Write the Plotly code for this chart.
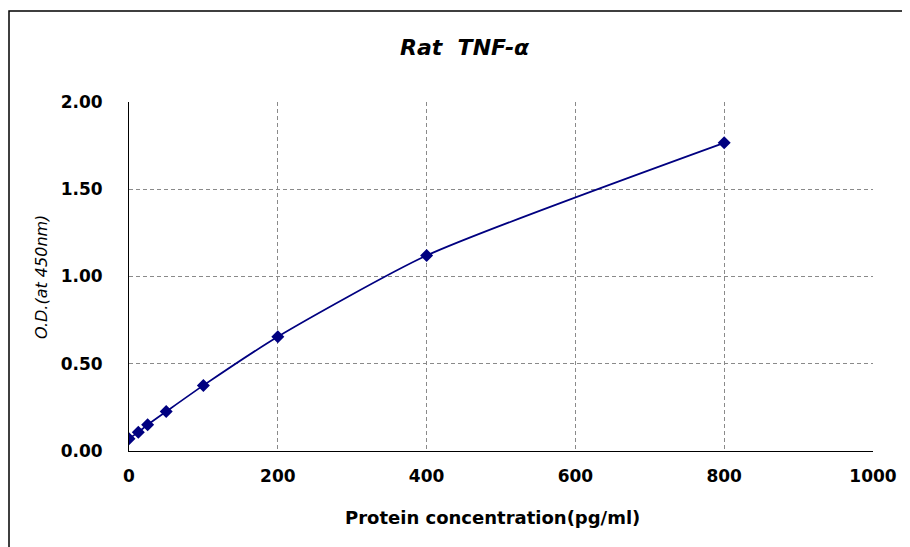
import plotly.graph_objects as go

concentration = [0, 12.5, 25, 50, 100, 200, 400, 800]
od_450 = [0.070, 0.108, 0.150, 0.226, 0.376, 0.655, 1.120, 1.766]

x_ticks = [0, 200, 400, 600, 800, 1000]
y_ticks = [0.0, 0.5, 1.0, 1.5, 2.0]

# figure geometry (page is offset by the 8px body margin)
W, H = 910, 547
L, R, T, B = 121, 45, 94, 104
pw, ph = W - L - R, H - T - B


def px(x):
    return (x - L) / pw


def py(y):
    return (T + ph - y) / ph


fig = go.Figure()
fig.add_trace(go.Scatter(
    x=concentration, y=od_450, mode="lines+markers",
    line=dict(color="#000080", width=1.7, shape="spline", smoothing=0.6),
    marker=dict(symbol="diamond", size=10, color="#000080"),
    showlegend=False, hoverinfo="x+y"))

font = "DejaVu Sans, Liberation Sans, Arial, sans-serif"
axis_common = dict(
    showline=True, linecolor="black", linewidth=1,
    ticks="",
    showgrid=True, gridcolor="#8a8a8a", griddash="4px,3px", gridwidth=1,
    zeroline=False, mirror=False,
    tickfont=dict(family=font, size=17, color="black", weight="bold"),
)

fig.update_layout(
    width=W, height=H,
    margin=dict(l=L, r=R, t=T, b=B),
    paper_bgcolor="white", plot_bgcolor="white",
    xaxis=dict(range=[0, 1000], tickvals=x_ticks, ticklabelstandoff=10, **axis_common),
    yaxis=dict(range=[0, 2], tickvals=y_ticks, tickformat=".2f", ticklabelstandoff=22,
               **axis_common),
    annotations=[
        dict(text="<b><i>Rat  TNF-α</i></b>", xref="paper", yref="paper",
             x=px(457), y=py(39), xanchor="center", yanchor="middle", showarrow=False,
             font=dict(family=font, size=22, color="black")),
        dict(text="<b>Protein concentration(pg/ml)</b>", xref="paper", yref="paper",
             x=px(484), y=py(509), xanchor="center", yanchor="middle", showarrow=False,
             font=dict(family=font, size=18, color="black")),
        dict(text="<i>O.D.(at 450nm)</i>", xref="paper", yref="paper",
             x=px(33), y=py(269), xanchor="center", yanchor="middle", showarrow=False,
             textangle=-90, font=dict(family=font, size=16, color="black")),
    ],
)

# outer frame of the chart area
fig.add_shape(type="rect", xref="paper", yref="paper",
              x0=px(1), x1=px(W + 10), y0=py(H + 10), y1=py(3),
              line=dict(color="black", width=1.5), fillcolor="rgba(0,0,0,0)", layer="below")

fig.write_html("out.html")
